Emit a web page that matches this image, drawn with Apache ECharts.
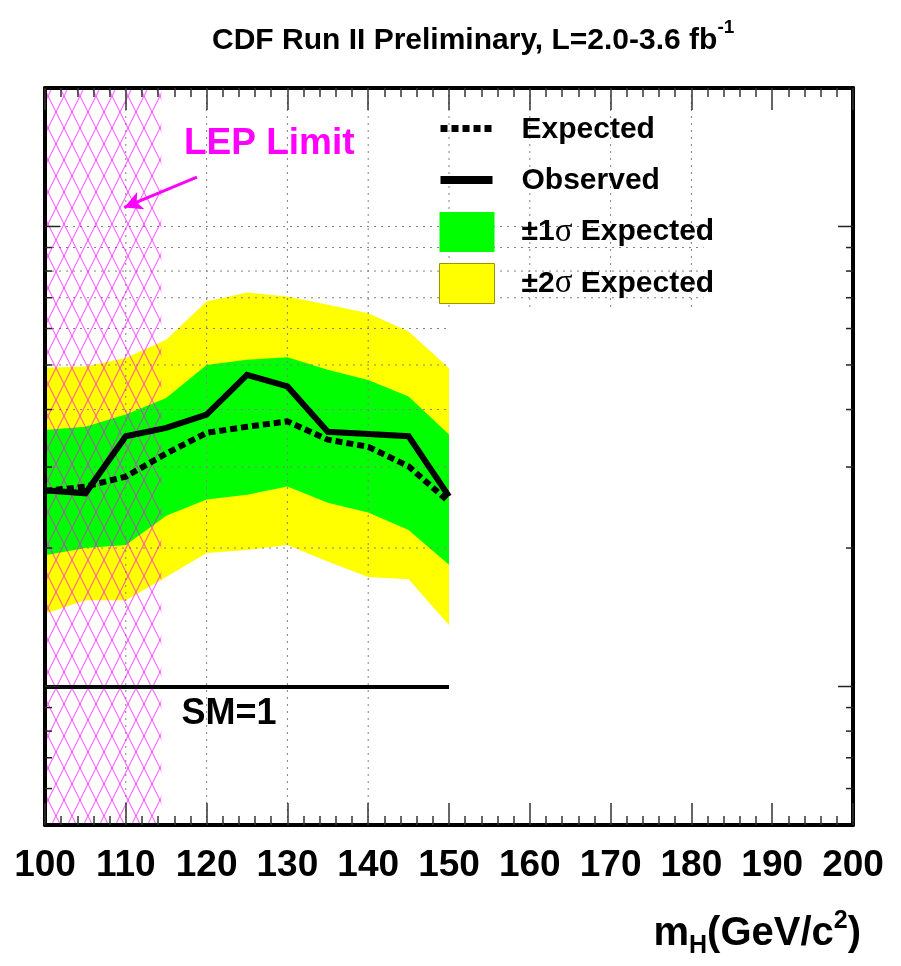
<!DOCTYPE html>
<html>
<head>
<meta charset="utf-8">
<title>CDF Run II Preliminary, L=2.0-3.6 fb-1</title>
<script src="https://cdn.jsdelivr.net/npm/echarts@6/dist/echarts.min.js"></script>
<style>
  html, body { margin: 0; padding: 0; background: #ffffff; }
  #chart { width: 901px; height: 966px; }
</style>
</head>
<body>
<div id="chart"></div>
<script>
// Higgs mass points (GeV/c^2) and 95% CL limits in units of the SM cross section
const massPoints    = [100, 105, 110, 115, 120, 125, 130, 135, 140, 145, 150];
const observedLimit = [2.67, 2.63, 3.50, 3.65, 3.90, 4.76, 4.49, 3.58, 3.54, 3.50, 2.59];
const expectedLimit = [2.66, 2.72, 2.86, 3.21, 3.56, 3.67, 3.77, 3.44, 3.32, 3.01, 2.52];
const oneSigmaLow   = [1.93, 2.00, 2.03, 2.35, 2.55, 2.61, 2.72, 2.51, 2.39, 2.19, 1.84];
const oneSigmaHigh  = [3.61, 3.67, 3.90, 4.24, 5.00, 5.13, 5.20, 4.88, 4.64, 4.27, 3.53];
const twoSigmaLow   = [1.44, 1.54, 1.54, 1.73, 1.95, 1.98, 2.03, 1.87, 1.73, 1.71, 1.36];
const twoSigmaHigh  = [4.93, 4.96, 5.18, 5.67, 6.87, 7.19, 7.04, 6.76, 6.48, 5.91, 4.92];

// SM reference level and LEP exclusion
const smLevel  = 1;
const lepRange = [100, 114.4];

// Axis ranges and tick values
const xMin = 100, xMax = 200, xStep = 10;
const yMin = 0.5, yMax = 20;
const yMajorTicks = [1, 10];
const yMinorTicks = [0.6, 0.7, 0.8, 0.9, 2, 3, 4, 5, 6, 7, 8, 9];
const gridLevelsY = [2, 3, 4, 5, 6, 7, 8, 9, 10];
const gridMassX   = [110, 120, 130, 140, 150, 160, 170, 180];

const FONT = "'Liberation Sans', Arial, Helvetica, sans-serif";
const SERIF = "'Liberation Serif', 'DejaVu Serif', serif";

// extents of the visible grid: below the legend the grid stops with the data
const dataEnd = 150, legendEdge = 181.5, legendFloor = 6.6;

function makeHatch() {
  const c = document.createElement('canvas');
  c.width = 16; c.height = 32;
  const g = c.getContext('2d');
  g.strokeStyle = 'rgba(255, 0, 255, 0.6)';
  g.lineWidth = 1.1;
  g.beginPath();
  g.moveTo(0, 0); g.lineTo(16, 32);
  g.moveTo(16, 0); g.lineTo(0, 32);
  g.stroke();
  return c;
}
const hatchCanvas = makeHatch();

function bandRenderer(low, high) {
  return function (params, api) {
    if (params.dataIndex !== 0) return null;
    const pts = [];
    for (let i = 0; i < massPoints.length; i++) pts.push(api.coord([massPoints[i], high[i]]));
    for (let i = massPoints.length - 1; i >= 0; i--) pts.push(api.coord([massPoints[i], low[i]]));
    return { type: 'polygon', shape: { points: pts }, style: { fill: api.visual('color') } };
  };
}

function renderGridLines(params, api) {
  if (params.dataIndex !== 0) return null;
  const style = { stroke: '#808080', lineWidth: 1, lineDash: [2, 5] };
  const children = [];
  gridLevelsY.forEach(function (v) {
    const a = api.coord([xMin, v]);
    const b = api.coord([v < legendFloor ? dataEnd : legendEdge, v]);
    children.push({ type: 'line', shape: { x1: a[0], y1: a[1], x2: b[0], y2: b[1] }, style: style });
  });
  gridMassX.forEach(function (m) {
    const a = api.coord([m, yMax]);
    const b = api.coord([m, m < dataEnd ? yMin : legendFloor]);
    children.push({ type: 'line', shape: { x1: a[0], y1: a[1], x2: b[0], y2: b[1] }, style: style });
  });
  return { type: 'group', children: children };
}

function renderYTicks(params, api) {
  if (params.dataIndex !== 0) return null;
  const children = [];
  function add(v, len) {
    const l = api.coord([xMin, v]);
    const r = api.coord([xMax, v]);
    const st = { stroke: '#222', lineWidth: 1.5 };
    children.push({ type: 'line', shape: { x1: l[0], y1: l[1], x2: l[0] + len, y2: l[1] }, style: st });
    children.push({ type: 'line', shape: { x1: r[0], y1: r[1], x2: r[0] - len, y2: r[1] }, style: st });
  }
  yMajorTicks.forEach(function (v) { add(v, 15); });
  yMinorTicks.forEach(function (v) { add(v, 7); });
  return { type: 'group', children: children };
}

function renderLep(params, api) {
  const tl = api.coord([lepRange[0], yMax]);
  const br = api.coord([lepRange[1], yMin]);
  return {
    type: 'rect',
    shape: { x: tl[0], y: tl[1], width: br[0] - tl[0], height: br[1] - tl[1] },
    style: { fill: { image: hatchCanvas, repeat: 'repeat' } }
  };
}

// legend icons: bounding box spans the whole 55x40 item so the marks keep their size
const dottedIcon = 'path://M0,0h0.01v0.01h-0.01Z M55,40h-0.01v-0.01h0.01Z ' +
  'M1,15h7v7h-7Z M12,15h7v7h-7Z M23,15h7v7h-7Z M34,15h7v7h-7Z M45,15h7v7h-7Z';
const solidIcon = 'path://M0,0h0.01v0.01h-0.01Z M55,40h-0.01v-0.01h0.01Z M1,15h52v8h-52Z';

const axisLineStyle = { color: '#000', width: 4 };
const tickStyle = { color: '#333', width: 1.5 };

const option = {
  animation: false,
  backgroundColor: '#ffffff',
  title: {
    left: 207,
    top: 13,
    text: '{m|CDF Run II Preliminary, L=2.0-3.6 fb}{sup|-1}',
    textStyle: {
      rich: {
        m: { fontFamily: FONT, fontWeight: 'bold', fontSize: 30, color: '#000', lineHeight: 46 },
        sup: { fontFamily: FONT, fontWeight: 'bold', fontSize: 19, color: '#000', lineHeight: 26, verticalAlign: 'top' }
      }
    }
  },
  legend: {
    orient: 'vertical',
    left: 434,
    top: 105,
    itemWidth: 55,
    itemHeight: 40,
    itemGap: 11,
    selectedMode: false,
    data: [
      { name: 'Expected', icon: dottedIcon, itemStyle: { color: '#000', borderWidth: 0 } },
      { name: 'Observed', icon: solidIcon, itemStyle: { color: '#000', borderWidth: 0 } },
      { name: '±1σ Expected', icon: 'rect', itemStyle: { color: '#00ff00', borderWidth: 0 } },
      { name: '±2σ Expected', icon: 'rect', itemStyle: { color: '#ffff00', borderColor: '#9c9400', borderWidth: 1 } }
    ],
    formatter: function (name) {
      return '{gap|}' + name.split('σ').map(function (s) { return '{b|' + s + '}'; }).join('{s|σ}');
    },
    textStyle: {
      color: '#000',
      rich: {
        gap: { width: 22 },
        b: { fontFamily: FONT, fontWeight: 'bold', fontSize: 30, color: '#000' },
        s: { fontFamily: SERIF, fontWeight: 'normal', fontSize: 33, color: '#000' }
      }
    }
  },
  graphic: [
    {
      type: 'text',
      left: 184,
      top: 125,
      z: 20,
      style: { text: 'LEP Limit', fontFamily: FONT, fontWeight: 'bold', fontSize: 37, fill: '#ff00ff' }
    }
  ],
  grid: { left: 45, right: 48, top: 88, bottom: 141 },
  xAxis: [
    {
      type: 'value', min: xMin, max: xMax, interval: xStep, position: 'bottom', z: 10,
      axisLine: { show: true, onZero: false, lineStyle: axisLineStyle },
      axisTick: { show: true, inside: true, length: 22, lineStyle: tickStyle },
      minorTick: { show: true, splitNumber: 5, length: 9, lineStyle: tickStyle },
      axisLabel: { show: true, margin: 22, fontFamily: FONT, fontWeight: 'bold', fontSize: 37, color: '#000' },
      splitLine: { show: false },
      minorSplitLine: { show: false },
      name: '{m|m}{sub|H}{m|(GeV/c}{sup|2}{m|)}',
      nameLocation: 'end',
      nameGap: 8,
      nameTextStyle: {
        align: 'right',
        verticalAlign: 'top',
        padding: [84, 0, 0, 0],
        rich: {
          m: { fontFamily: FONT, fontWeight: 'bold', fontSize: 40, color: '#000', lineHeight: 50 },
          sub: { fontFamily: FONT, fontWeight: 'bold', fontSize: 25, color: '#000', lineHeight: 18, verticalAlign: 'bottom' },
          sup: { fontFamily: FONT, fontWeight: 'bold', fontSize: 25, color: '#000', lineHeight: 24, verticalAlign: 'top' }
        }
      }
    },
    {
      type: 'value', min: xMin, max: xMax, interval: xStep, position: 'top', z: 10,
      axisLine: { show: true, onZero: false, lineStyle: axisLineStyle },
      axisTick: { show: true, inside: true, length: 22, lineStyle: tickStyle },
      minorTick: { show: true, splitNumber: 5, length: 9, lineStyle: tickStyle },
      axisLabel: { show: false },
      splitLine: { show: false }
    }
  ],
  yAxis: [
    {
      type: 'log', logBase: 10, min: yMin, max: yMax, position: 'left', z: 10,
      axisLine: { show: true, onZero: false, lineStyle: axisLineStyle },
      axisTick: { show: false }, axisLabel: { show: false }, splitLine: { show: false }
    },
    {
      type: 'log', logBase: 10, min: yMin, max: yMax, position: 'right', z: 10,
      axisLine: { show: true, onZero: false, lineStyle: axisLineStyle },
      axisTick: { show: false }, axisLabel: { show: false }, splitLine: { show: false }
    }
  ],
  series: [
    {
      name: '±2σ Expected', type: 'custom', z: 1, silent: true,
      itemStyle: { color: '#ffff00' },
      renderItem: bandRenderer(twoSigmaLow, twoSigmaHigh),
      encode: { x: 0, y: [1, 2] },
      data: massPoints.map(function (m, i) { return [m, twoSigmaLow[i], twoSigmaHigh[i]]; })
    },
    {
      name: '±1σ Expected', type: 'custom', z: 1, silent: true,
      itemStyle: { color: '#00ff00' },
      renderItem: bandRenderer(oneSigmaLow, oneSigmaHigh),
      encode: { x: 0, y: [1, 2] },
      data: massPoints.map(function (m, i) { return [m, oneSigmaLow[i], oneSigmaHigh[i]]; })
    },
    {
      name: 'grid', type: 'custom', z: 2, silent: true,
      renderItem: renderGridLines,
      encode: { x: 0, y: 1 },
      data: [[dataEnd, smLevel]]
    },
    {
      name: 'LEP', type: 'custom', z: 3, silent: true,
      renderItem: renderLep,
      encode: { x: 0, y: 1 },
      data: [[lepRange[0], smLevel]]
    },
    {
      name: 'Expected', type: 'line', z: 4, silent: true,
      symbol: 'none',
      lineStyle: { color: '#000', width: 6, type: [7, 4], cap: 'butt', join: 'miter' },
      itemStyle: { color: '#000' },
      data: massPoints.map(function (m, i) { return [m, expectedLimit[i]]; }),
      markLine: {
        silent: true, animation: false,
        symbol: ['none', 'arrow'], symbolSize: [14, 18],
        lineStyle: { color: '#ff00ff', width: 3, type: 'solid' },
        label: { show: false },
        emphasis: { disabled: true },
        data: [[{ coord: [118.8, 12.8] }, { coord: [109.8, 11.0] }]]
      }
    },
    {
      name: 'Observed', type: 'line', z: 5, silent: true,
      symbol: 'none',
      lineStyle: { color: '#000', width: 6, type: 'solid', join: 'miter' },
      itemStyle: { color: '#000' },
      data: massPoints.map(function (m, i) { return [m, observedLimit[i]]; }),
      markLine: {
        silent: true, animation: false,
        symbol: ['none', 'none'],
        lineStyle: { color: '#000', width: 4, type: 'solid' },
        emphasis: { disabled: true },
        label: {
          show: true, position: 'insideMiddleBottom', formatter: 'SM=1',
          fontFamily: FONT, fontWeight: 'bold', fontSize: 36, color: '#000',
          distance: 10, padding: [0, 36, 0, 0]
        },
        data: [[{ coord: [xMin, smLevel] }, { coord: [dataEnd, smLevel] }]]
      }
    },
    {
      name: 'ticks', type: 'custom', z: 12, silent: true,
      renderItem: renderYTicks,
      encode: { x: 0, y: 1 },
      data: [[dataEnd, smLevel]]
    }
  ]
};

const chart = echarts.init(document.getElementById('chart'));
chart.setOption(option);
</script>
</body>
</html>
